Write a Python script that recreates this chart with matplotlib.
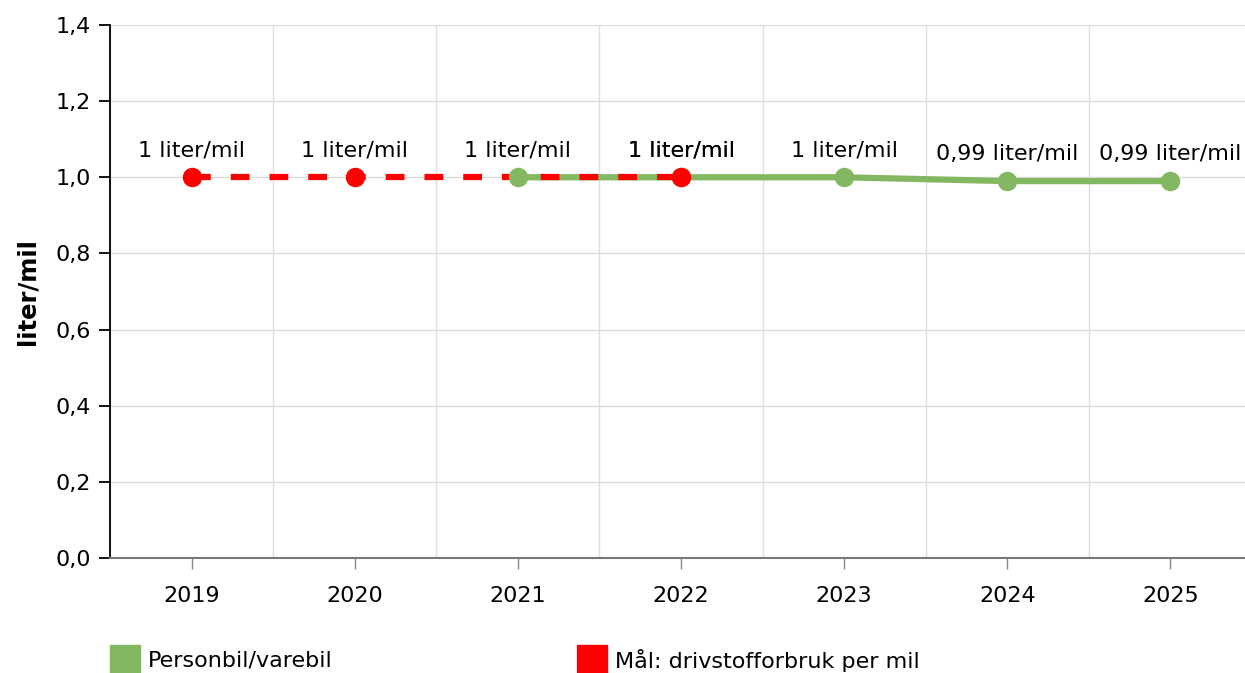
import matplotlib
matplotlib.use("Agg")
import matplotlib.pyplot as plt
from matplotlib.patches import Rectangle

years = ["2019", "2020", "2021", "2022", "2023", "2024", "2025"]
green_years = ["2021", "2022", "2023", "2024", "2025"]
green_vals = [1.0, 1.0, 1.0, 0.99, 0.99]
green_labels = ["1 liter/mil", "1 liter/mil", "1 liter/mil", "0,99 liter/mil", "0,99 liter/mil"]
red_years = ["2019", "2020", "2021", "2022"]
red_vals = [1.0, 1.0, 1.0, 1.0]
red_labels = ["1 liter/mil", "1 liter/mil", "", "1 liter/mil"]
yticks = [0.0, 0.2, 0.4, 0.6, 0.8, 1.0, 1.2, 1.4]
series_names = ["Personbil/varebil", "Mål: drivstofforbruk per mil"]

GREEN = "#84b761"
RED = "#ff0000"
FS = 16

W, H = 1245, 673
fig = plt.figure(figsize=(W / 100, H / 100), dpi=100)
ax = fig.add_axes([110 / W, 115 / H, 1142 / W, 533 / H])

idx = {y: i for i, y in enumerate(years)}
gx = [idx[y] for y in green_years]
rx = [idx[y] for y in red_years]

ax.set_xlim(-0.5, len(years) - 0.5)
ax.set_ylim(0, 1.4)

# grid
for b in range(len(years) + 1):
    ax.axvline(b - 0.5, color="#e0e0e0", lw=1, zorder=0)
for t in yticks:
    ax.axhline(t, color="#dcdcdc", lw=1, zorder=0)

# lines
ax.plot(gx, green_vals, color=GREEN, lw=4.5, solid_capstyle="round", zorder=3)
ax.plot(rx, red_vals, color=RED, lw=4.5, dashes=(3, 3.2), dash_capstyle="butt", zorder=4)
# markers (red point hidden where a green point sits on it)
red_mark = [i for i, s in enumerate(red_labels) if s]
ax.plot(gx, green_vals, ls="none", marker="o", ms=13, color=GREEN, zorder=5)
ax.plot([rx[i] for i in red_mark], [red_vals[i] for i in red_mark], ls="none",
        marker="o", ms=13, color=RED, zorder=6)

for x, v, s in zip(gx, green_vals, green_labels):
    ax.annotate(s, (x, v), xytext=(0, 12), textcoords="offset points",
                ha="center", va="bottom", fontsize=FS, color="black", zorder=7)
for x, v, s in zip(rx, red_vals, red_labels):
    if s:
        ax.annotate(s, (x, v), xytext=(0, 12), textcoords="offset points",
                    ha="center", va="bottom", fontsize=FS, color="black", zorder=7)

ax.set_xticks(range(len(years)))
ax.set_xticklabels(years, fontsize=FS)
ax.set_yticks(yticks)
ax.set_yticklabels([f"{t:.1f}".replace(".", ",") for t in yticks], fontsize=FS)
ax.tick_params(axis="x", length=8, width=1, color="#888888", pad=12)
ax.tick_params(axis="y", length=8, width=1.3, color="black", pad=6)

for s in ["top", "right"]:
    ax.spines[s].set_visible(False)
ax.spines["left"].set_color("black")
ax.spines["left"].set_linewidth(1.3)
ax.spines["bottom"].set_color("#777777")
ax.spines["bottom"].set_linewidth(1.5)

ax.set_ylabel("liter/mil", fontsize=17.5, fontweight="bold", labelpad=11)

# legend
fig.patches.append(Rectangle((110 / W, 0), 30 / W, 28 / H, transform=fig.transFigure,
                             color=GREEN))
fig.text(148 / W, 12 / H, series_names[0], fontsize=FS, va="center", ha="left")
fig.patches.append(Rectangle((577 / W, 0), 30 / W, 28 / H, transform=fig.transFigure,
                             color=RED))
fig.text(615 / W, 12 / H, series_names[1], fontsize=FS, va="center", ha="left")

fig.savefig("out.png", dpi=100)
